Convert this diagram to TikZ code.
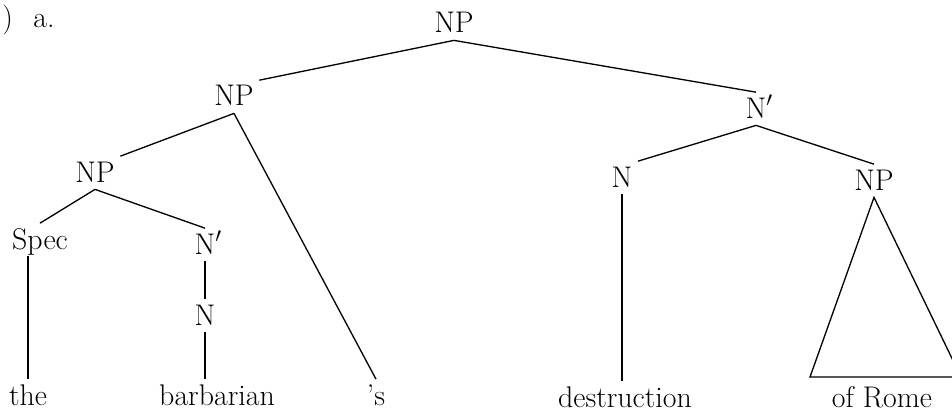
\documentclass[tikz,border=0pt]{standalone}
\usepackage{fontspec}
\usetikzlibrary{positioning}

\begin{document}
\begin{tikzpicture}[
        x=0.02cm, y=-0.02cm,
        every node/.style={font=\fontsize{17}{20}\selectfont, inner sep=3pt, anchor=base},
        cat/.style={text height=11.5pt, text depth=1pt},
        word/.style={text height=11.5pt, text depth=0pt},
        line/.style={draw, line width=0.75pt}
    ]
        \useasboundingbox (0,0) rectangle (952,412);

        % Example number
        \node[inner sep=0pt, anchor=base west] (exnum) at (2,28) {)};
        \node[inner sep=0pt, anchor=base west] (exlbl) at (33,28) {a.};

        % Categories
        \node[cat] (np) at (454,33) {NP};
        \node[cat] (np1) at (234,106) {NP};
        \node[cat] (np2) at (95,182) {NP};
        \node[cat] (spec) at (40,249) {Spec};
        \node[cat] (nbar1) at (205,254) {N\rlap{$'$}};
        \node[cat] (n1) at (205,325) {N};
        \node[cat] (nbar2) at (756,118) {N\rlap{$'$}};
        \node[cat] (n2) at (622,187) {N};
        \node[cat] (np3) at (874,190) {NP};

        % Words
        \node[word] (the) at (28,405) {the};
        \node[word] (barb) at (217,405) {barbarian};
        \node[word] (poss) at (376,405) {'s};
        \node[word] (destr) at (625,407) {destruction};
        \node[word] (rome) at (882,407) {of Rome};

        % Branches
        \draw[line] (np.south) -- (np1.north east);
        \draw[line] (np.south) -- (nbar2.north);
        \draw[line] (np1.south) -- (np2.north east);
        \draw[line] (np1.south) -- (poss.north);
        \draw[line] (np2.south) -- (spec.north);
        \draw[line] (np2.south) -- (nbar1.north);
        \draw[line] (spec.south -| the.north) -- (the.north);
        \draw[line] (nbar1.south) -- (n1.north);
        \draw[line] (n1.south) -- (n1.south |- barb.north);
        \draw[line] (nbar2.south) -- (n2.north east);
        \draw[line] (nbar2.south) -- (np3.north);
        \draw[line] (n2.south) -- (n2.south |- destr.north);

        % Triangle over "of Rome"
        \coordinate (triL) at (810,377);
        \coordinate (triR) at (961,377);
        \draw[line] (np3.south) -- (triL) -- (triR) -- cycle;
    \end{tikzpicture}
\end{document}
